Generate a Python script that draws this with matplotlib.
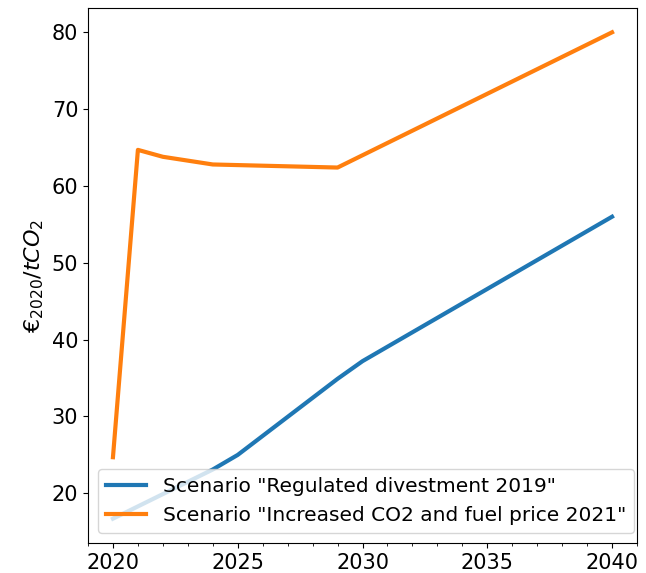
import matplotlib
matplotlib.use("Agg")
import matplotlib.pyplot as plt
from matplotlib.ticker import MultipleLocator

# Escenario "Regulated divestment 2019"
anios_reg = [2020, 2024, 2025, 2029, 2030, 2040]
precio_reg = [16.7, 23.1, 25.0, 34.9, 37.2, 56.0]

# Escenario "Increased CO2 and fuel price 2021"
anios_inc = [2020, 2021, 2022, 2024, 2029, 2040]
precio_inc = [24.7, 64.7, 63.8, 62.8, 62.4, 80.0]

etiquetas = ['Scenario "Regulated divestment 2019"',
             'Scenario "Increased CO2 and fuel price 2021"']

fig = plt.figure(figsize=(6.46, 5.73), dpi=100)
ax = fig.add_axes([88/646, 30/573, 549/646, 535/573])

ax.plot(anios_reg, precio_reg, color='#1f77b4', lw=3, label=etiquetas[0])
ax.plot(anios_inc, precio_inc, color='#ff7f0e', lw=3, label=etiquetas[1])

ax.xaxis.set_major_locator(MultipleLocator(5))
ax.xaxis.set_minor_locator(MultipleLocator(1))
ax.tick_params(axis='both', which='major', labelsize=15)
ax.set_ylabel(r'$€_{2020}/tCO_2$', fontsize=16)
ax.legend(loc='lower left', fontsize=14.5)

plt.savefig('out.png', dpi=100)
